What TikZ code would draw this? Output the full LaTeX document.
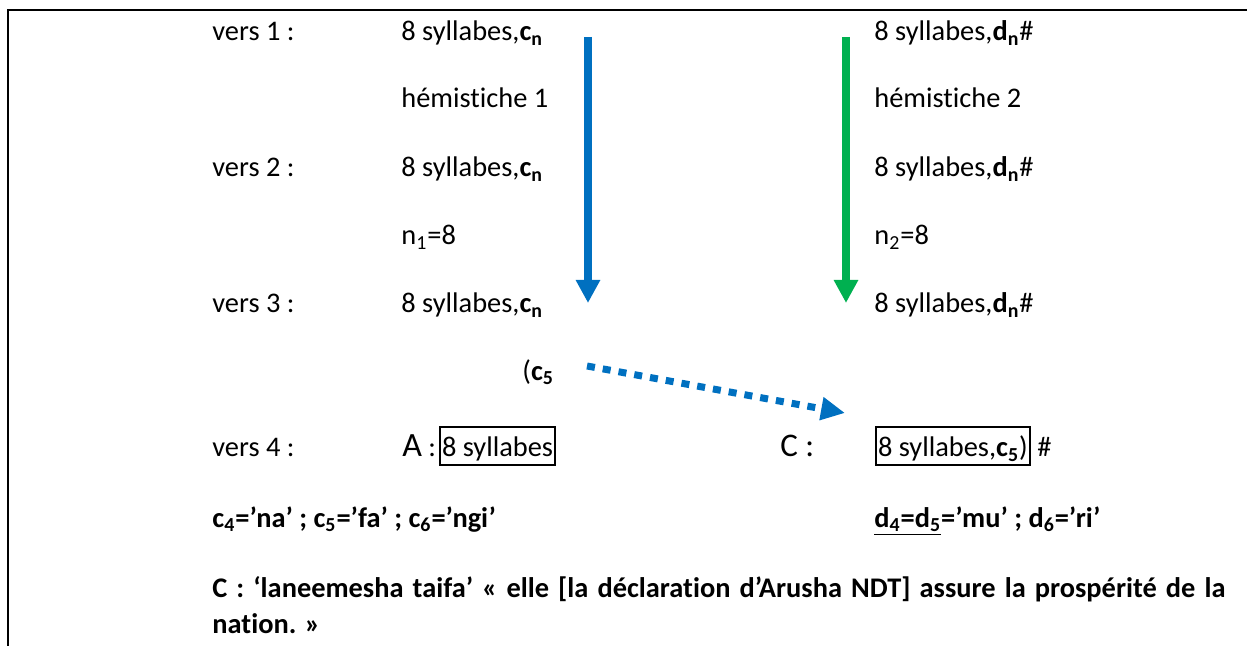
\documentclass[tikz,border=0pt]{standalone}
\usepackage{fontspec}
\setmainfont{Carlito}[Ligatures=NoCommon]
\usetikzlibrary{arrows.meta}
\definecolor{azul}{RGB}{0,112,192}
\definecolor{verde}{RGB}{0,176,80}

\begin{document}
\begin{tikzpicture}[
    % 1 unidade = 1 pixel da figura original
    x=0.5pt, y=-0.5pt,
    font=\fontsize{14.2}{17}\selectfont,
    % Estilo dos textos (alinhados pela linha de base)
    rotulo/.style={anchor=base west, inner sep=0pt},
    negrito/.style={rotulo, font=\fontsize{14.2}{17}\selectfont\bfseries},
    grande/.style={rotulo, font=\fontsize{16.5}{20}\selectfont},
    % Caixa em volta das sílabas do verso 4
    caixa/.style={anchor=base west, draw, line width=1pt, inner xsep=1pt,
        inner ysep=0pt, text height=15pt, text depth=4pt},
    % Setas cheias e seta pontilhada
    seta/.style={line width=4pt, -{Triangle[width=11.5pt,length=11.5pt]}},
    pontilhada/.style={line width=3.5pt, azul, dash pattern=on 4pt off 4pt,
        -{Triangle[width=11pt,length=12pt]}}
]
    \useasboundingbox (0,0) rectangle (1247,646);

    % ==========================================
    % 1. MOLDURA
    % ==========================================
    \draw[line width=1pt] (8,646) -- (8,10) -- (1247,10);

    % ==========================================
    % 2. COLUNA DA ESQUERDA (hemistiche 1)
    % ==========================================
    \node[rotulo] (v1) at (212,41) {vers 1 :};
    \node[rotulo] (v2) at (212,177) {vers 2 :};
    \node[rotulo] (v3) at (212,313) {vers 3 :};
    \node[rotulo] (v4) at (212,457) {vers 4 :};

    \node[rotulo] (e1) at (401,41) {8 syllabes,\textbf{c\textsubscript{n}}};
    \node[rotulo] (h1) at (401,108) {hémistiche 1};
    \node[rotulo] (e2) at (401,177) {8 syllabes,\textbf{c\textsubscript{n}}};
    \node[rotulo] (n1) at (401,245) {n\textsubscript{1}=8};
    \node[rotulo] (e3) at (401,313) {8 syllabes,\textbf{c\textsubscript{n}}};
    \node[rotulo] (c5) at (522,380) {(\textbf{c\textsubscript{5}}};

    \node[rotulo] (la) at (402,457) {{\fontsize{17}{20}\selectfont A} :};
    \node[caixa] (ca) at (439,457) {8 syllabes};

    % ==========================================
    % 3. COLUNA DA DIREITA (hemistiche 2)
    % ==========================================
    \node[rotulo] (d1) at (874,41) {8 syllabes,\textbf{d\textsubscript{n}}\#};
    \node[rotulo] (h2) at (874,108) {hémistiche 2};
    \node[rotulo] (d2) at (874,177) {8 syllabes,\textbf{d\textsubscript{n}}\#};
    \node[rotulo] (n2) at (874,245) {n\textsubscript{2}=8};
    \node[rotulo] (d3) at (874,313) {8 syllabes,\textbf{d\textsubscript{n}}\#};

    \node[grande] (lc) at (780,457) {C :};
    \node[caixa] (cc) at (875,457) {8 syllabes,\textbf{c\textsubscript{5}})};
    \node[rotulo] (cq) at (1037,457) {\#};

    % ==========================================
    % 4. SILABAS E TRADUCAO
    % ==========================================
    \node[negrito] (sc) at (212,527)
        {c\textsubscript{4}=’na’ ; c\textsubscript{5}=’fa’ ; c\textsubscript{6}=’ngi’};
    \node[negrito] (sd) at (874,527)
        {\underline{d\textsubscript{4}=d\textsubscript{5}}=’mu’ ; d\textsubscript{6}=’ri’};
    % linha justificada (largura de 1013 px)
    \node[negrito] (tr1) at (212,597)
        {\makebox[506.5pt][s]{C : ‘laneemesha taifa’ « elle [la déclaration d’Arusha NDT] assure la prospérité de la}};
    \node[negrito] (tr2) at (212,633) {nation. »};

    % ==========================================
    % 5. SETAS
    % ==========================================
    \coordinate (azulIni) at (588,37);
    \coordinate (azulFim) at (588,303);
    \coordinate (verdeIni) at (846,37);
    \coordinate (verdeFim) at (846,303);
    \coordinate (pontIni) at (587,366);
    \coordinate (pontFim) at (845,413);

    \draw[seta, azul] (azulIni) -- (azulFim);
    \draw[seta, verde] (verdeIni) -- (verdeFim);
    \draw[pontilhada] (pontIni) -- (pontFim);

\end{tikzpicture}
\end{document}
